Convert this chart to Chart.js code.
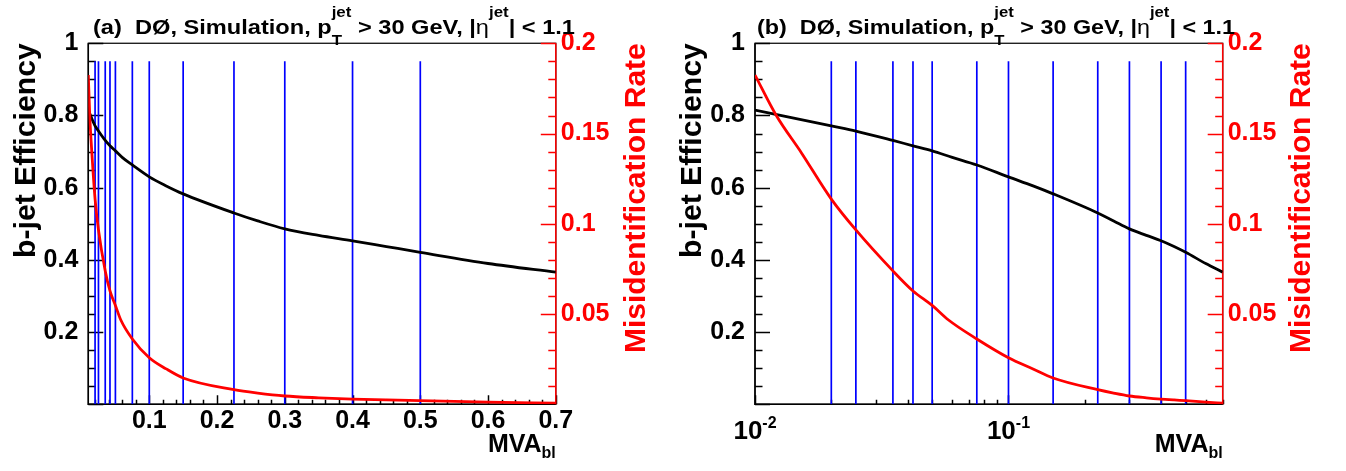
<!DOCTYPE html>
<html>
<head>
<meta charset="utf-8">
<script src="https://cdn.jsdelivr.net/npm/chart.js@4.4.1/dist/chart.umd.min.js"></script>
<style>
    html, body { margin: 0; padding: 0; background: #fff; }
    .panel { position: absolute; top: 0; width: 673px; height: 471px; }
    #panelA { left: 0; }
    #panelB { left: 673px; }
</style>
</head>
<body>
<div class="panel" id="panelA"><canvas id="chartA"></canvas></div>
<div class="panel" id="panelB"><canvas id="chartB"></canvas></div>
<script>
// MVA_bl operating points
const cutValues = [0.02, 0.025, 0.035, 0.042, 0.05, 0.075, 0.1, 0.15, 0.225, 0.3, 0.4, 0.5];
const cutLineTop = 0.95;

// b-jet efficiency vs MVA_bl cut
const effX = [0.01, 0.02, 0.025, 0.035, 0.042, 0.05, 0.06, 0.075, 0.1, 0.125, 0.15, 0.225, 0.26, 0.3, 0.35, 0.4, 0.45, 0.5, 0.6, 0.7];
const effY = [0.815, 0.771, 0.757, 0.731, 0.716, 0.702, 0.684, 0.663, 0.630, 0.605, 0.583, 0.530, 0.508, 0.486, 0.468, 0.453, 0.437, 0.421, 0.390, 0.366];

// misidentification rate vs MVA_bl cut
const misX = [0.01, 0.0121, 0.0153, 0.02, 0.025, 0.035, 0.042, 0.05, 0.058, 0.075, 0.1, 0.125, 0.15, 0.225, 0.26, 0.3, 0.35, 0.4, 0.45, 0.5, 0.6, 0.7];
const misY = [0.1824, 0.1603, 0.139, 0.1137, 0.0966, 0.0739, 0.0628, 0.0548, 0.0467, 0.0362, 0.0258, 0.0196, 0.0146, 0.0081, 0.0062, 0.0046, 0.0036, 0.0029, 0.0024, 0.0020, 0.0012, 0.0006];

// axis ticks
const effTicks = [0.2, 0.4, 0.6, 0.8, 1];
const effMinor = [0.05, 0.1, 0.15, 0.25, 0.3, 0.35, 0.45, 0.5, 0.55, 0.65, 0.7, 0.75, 0.85, 0.9, 0.95];
const misTicks = [0.05, 0.1, 0.15, 0.2];
const misMinor = [0.01, 0.02, 0.03, 0.04, 0.06, 0.07, 0.08, 0.09, 0.11, 0.12, 0.13, 0.14, 0.16, 0.17, 0.18, 0.19];
const linTicks = [0.1, 0.2, 0.3, 0.4, 0.5, 0.6, 0.7];
const linMinor = [0.02, 0.04, 0.06, 0.08, 0.12, 0.14, 0.16, 0.18, 0.22, 0.24, 0.26, 0.28, 0.32, 0.34, 0.36, 0.38,
                  0.42, 0.44, 0.46, 0.48, 0.52, 0.54, 0.56, 0.58, 0.62, 0.64, 0.66, 0.68];
const logTicks = [0.01, 0.1];
const logMinor = [0.02, 0.03, 0.04, 0.05, 0.06, 0.07, 0.08, 0.09, 0.2, 0.3, 0.4, 0.5, 0.6, 0.7];

const FAMILY = "'Liberation Sans', Arial, Helvetica, sans-serif";
const RED = '#ff0000';

function fontOf(s) {
    return `${s.light ? 'normal' : 'bold'} ${s.size}px ${FAMILY}`;
}

// text with super/subscripts; "hold" parts share x with the next part
function drawRich(ctx, segs, x, y, align, fitWidth) {
    let total = 0, held = 0;
    for (const s of segs) {
        ctx.font = fontOf(s);
        const w = ctx.measureText(s.t).width;
        if (s.hold) { held = Math.max(held, w); continue; }
        total += Math.max(held, w); held = 0;
    }
    const k = fitWidth ? fitWidth / total : 1;
    const w0 = total * k;
    const x0 = align === 'right' ? x - w0 : align === 'center' ? x - w0 / 2 : x;
    ctx.save();
    ctx.translate(x0, y);
    ctx.scale(k, 1);
    ctx.textAlign = 'left';
    ctx.textBaseline = 'alphabetic';
    let cx = 0; held = 0;
    for (const s of segs) {
        ctx.font = fontOf(s);
        ctx.fillText(s.t, cx, s.dy || 0);
        const w = ctx.measureText(s.t).width;
        if (s.hold) { held = Math.max(held, w); continue; }
        cx += Math.max(held, w); held = 0;
    }
    ctx.restore();
}

function drawVertical(ctx, text, cx, yTop, yBottom, size, color) {
    ctx.save();
    ctx.font = `bold ${size}px ${FAMILY}`;
    const w = ctx.measureText(text).width;
    ctx.translate(cx, yBottom);
    ctx.rotate(-Math.PI / 2);
    ctx.scale((yBottom - yTop) / w, 1);
    ctx.fillStyle = color;
    ctx.textAlign = 'left';
    ctx.textBaseline = 'middle';
    ctx.fillText(text, 0, 0);
    ctx.restore();
}

function tickMarks(ctx, scale, values, len, side, a) {
    ctx.beginPath();
    values.forEach(v => {
        const p = Math.round(scale.getPixelForValue(v)) + 0.5;
        if (side === 'left') { ctx.moveTo(a.left, p); ctx.lineTo(a.left + len, p); }
        if (side === 'right') { ctx.moveTo(a.right, p); ctx.lineTo(a.right - len, p); }
        if (side === 'bottom') { ctx.moveTo(p, a.bottom); ctx.lineTo(p, a.bottom - len); }
    });
    ctx.stroke();
}

// frame, axis lines and inward ticks
const frameAxes = {
    id: 'frameAxes',
    beforeDatasetsDraw(chart) {
        const { ctx, chartArea: a, scales } = chart;
        const isLog = scales.x.type === 'logarithmic';
        ctx.save();
        ctx.strokeStyle = '#222';
        ctx.lineWidth = 1.4;
        ctx.strokeRect(a.left, a.top, a.right - a.left, a.bottom - a.top);

        ctx.strokeStyle = '#000';
        ctx.lineWidth = 1.5;
        tickMarks(ctx, scales.y, [0].concat(effTicks), 15, 'left', a);
        tickMarks(ctx, scales.y, effMinor, 7.5, 'left', a);
        tickMarks(ctx, scales.x, isLog ? logTicks : linTicks, 9, 'bottom', a);
        tickMarks(ctx, scales.x, isLog ? logMinor : linMinor, 4.5, 'bottom', a);
        ctx.beginPath();
        ctx.moveTo(a.left, a.top); ctx.lineTo(a.left, a.bottom); ctx.lineTo(a.right, a.bottom);
        ctx.stroke();

        ctx.strokeStyle = RED;
        tickMarks(ctx, scales.y2, misTicks, 15, 'right', a);
        tickMarks(ctx, scales.y2, misMinor, 7.5, 'right', a);
        ctx.beginPath();
        ctx.moveTo(a.right, a.top); ctx.lineTo(a.right, a.bottom);
        ctx.stroke();
        ctx.restore();
    }
};

// titles, axis titles and power-of-ten labels
const panelText = {
    id: 'panelText',
    afterDraw(chart, args, o) {
        const { ctx, chartArea: a, scales } = chart;
        ctx.save();
        ctx.fillStyle = '#000';
        drawRich(ctx, [
            { t: `(${o.letter})  DØ, Simulation, p`, size: 21 },
            { t: 'T', size: 15, dy: 11, hold: true },
            { t: 'jet', size: 15, dy: -17 },
            { t: ' > 30 GeV, |', size: 21 },
            { t: 'η', size: 21, light: true },
            { t: 'jet', size: 15, dy: -17 },
            { t: '| < 1.1', size: 21 }
        ], o.titleX, 34, 'left', o.titleW);

        drawRich(ctx, [
            { t: 'MVA', size: 25 },
            { t: 'bl', size: 16, dy: 6 }
        ], a.right, 452, 'right');

        if (scales.x.type === 'logarithmic') {
            logTicks.forEach(v => {
                drawRich(ctx, [
                    { t: '10', size: 26 },
                    { t: String(Math.round(Math.log10(v))), size: 16, dy: -11 }
                ], scales.x.getPixelForValue(v), 439, 'center');
            });
        }

        drawVertical(ctx, 'b-jet Efficiency', o.leftTitleX, a.top, 258, 29, '#000');
        drawVertical(ctx, 'Misidentification Rate', o.rightTitleX, a.top, 353, 29, RED);
        ctx.restore();
    }
};

function makePanel(canvasId, cfg) {
    const tickFont = { family: FAMILY, weight: 'bold', size: 25 };
    const cutData = [];
    cutValues.forEach(c => {
        cutData.push({ x: c, y: 0 }, { x: c, y: cutLineTop }, { x: c, y: null });
    });

    return new Chart(document.getElementById(canvasId), {
        type: 'line',
        data: {
            datasets: [
                {
                    label: 'Misidentification Rate',
                    data: misX.map((x, i) => ({ x, y: misY[i] })),
                    yAxisID: 'y2',
                    borderColor: RED,
                    borderWidth: 2.8,
                    pointRadius: 0,
                    cubicInterpolationMode: 'monotone'
                },
                {
                    label: 'b-jet Efficiency',
                    data: effX.map((x, i) => ({ x, y: effY[i] })),
                    yAxisID: 'y',
                    borderColor: '#000',
                    borderWidth: 2.8,
                    pointRadius: 0,
                    cubicInterpolationMode: 'monotone'
                },
                {
                    label: 'MVA_bl cuts',
                    data: cutData,
                    yAxisID: 'y',
                    borderColor: '#0000ff',
                    borderWidth: 1.7,
                    pointRadius: 0,
                    spanGaps: false
                }
            ]
        },
        options: {
            responsive: true,
            maintainAspectRatio: false,
            animation: false,
            layout: { padding: { top: 43.3, left: 0, right: 0, bottom: 0 } },
            plugins: {
                legend: { display: false },
                tooltip: { enabled: false },
                panelText: cfg
            },
            scales: {
                x: {
                    type: cfg.xType,
                    min: 0.01,
                    max: 0.7,
                    afterFit: s => { s.height = 66.7; },
                    afterBuildTicks: s => { s.ticks = linTicks.map(v => ({ value: v })); },
                    grid: { display: false, drawTicks: false },
                    border: { display: false },
                    ticks: {
                        display: cfg.xType === 'linear',
                        font: tickFont,
                        color: '#000',
                        padding: 2,
                        maxRotation: 0,
                        autoSkip: false,
                        callback: v => String(v)
                    }
                },
                y: {
                    position: 'left',
                    min: 0,
                    max: 1,
                    afterFit: s => { s.width = cfg.left; },
                    afterBuildTicks: s => { s.ticks = effTicks.map(v => ({ value: v })); },
                    grid: { display: false, drawTicks: false },
                    border: { display: false },
                    ticks: { font: tickFont, color: '#000', padding: 10, callback: v => String(v) }
                },
                y2: {
                    position: 'right',
                    min: 0,
                    max: 0.2,
                    afterFit: s => { s.width = 673 - cfg.right; },
                    afterBuildTicks: s => { s.ticks = misTicks.map(v => ({ value: v })); },
                    grid: { display: false, drawTicks: false },
                    border: { display: false },
                    ticks: { font: tickFont, color: RED, padding: 5, callback: v => String(v) }
                }
            }
        },
        plugins: [frameAxes, panelText]
    });
}

makePanel('chartA', {
    letter: 'a', xType: 'linear', left: 88.3, right: 555.8,
    titleX: 93, titleW: 482, leftTitleX: 27, rightTitleX: 637
});
makePanel('chartB', {
    letter: 'b', xType: 'logarithmic', left: 82, right: 549.7,
    titleX: 84, titleW: 478, leftTitleX: 20, rightTitleX: 629
});
</script>
</body>
</html>
